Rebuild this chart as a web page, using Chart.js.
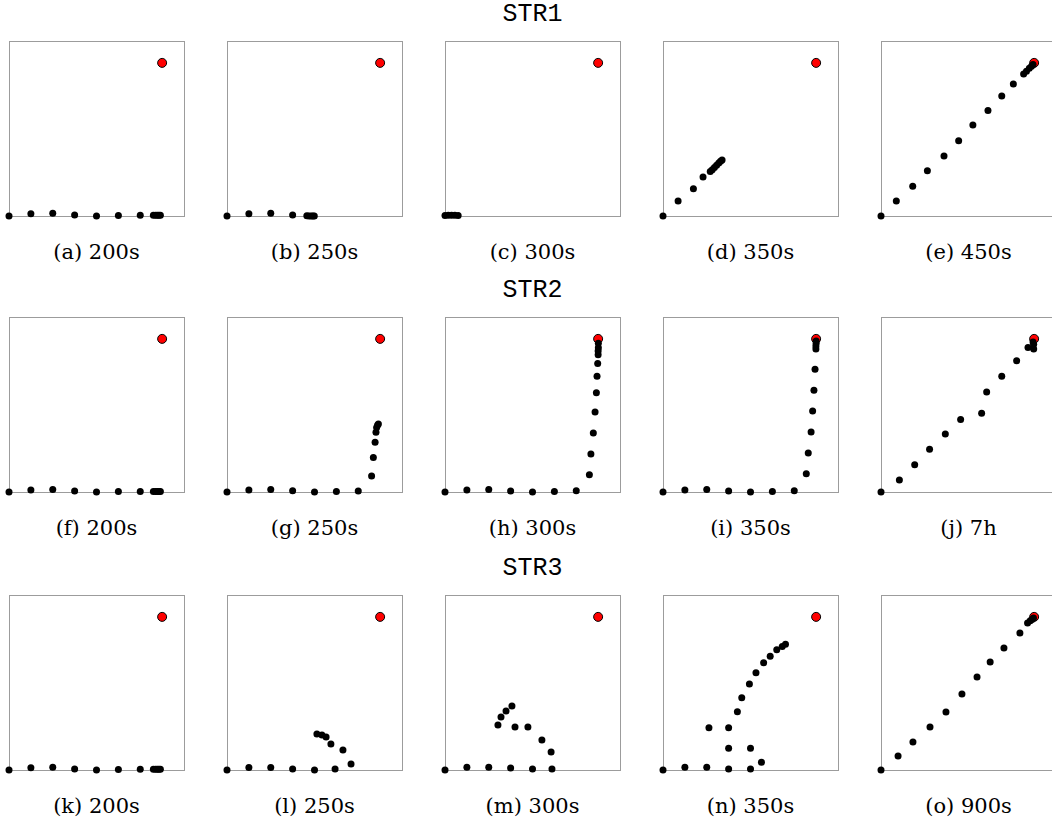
<!DOCTYPE html>
<html>
<head>
<meta charset="utf-8">
<script src="https://cdn.jsdelivr.net/npm/chart.js@4.4.1/dist/chart.umd.min.js"></script>
<style>
  html, body { margin: 0; padding: 0; background: #fff; }
  #page { position: relative; width: 1052px; height: 826px; overflow: hidden; }
  .panel { position: absolute; width: 195px; height: 195px; }
  .caption { position: absolute; width: 175px; text-align: center; font-family: "DejaVu Serif", serif; font-size: 21px; line-height: 24px; color: #000; white-space: nowrap; }
  .title { position: absolute; width: 175px; text-align: center; font-family: "Liberation Mono", monospace; font-size: 25px; line-height: 28px; color: #000; }
</style>
</head>
<body>
<div id="page"></div>
<script>
const ROW_TITLES = ['STR1', 'STR2', 'STR3'];
const CAPTIONS = [
  ['(a) 200s', '(b) 250s', '(c) 300s', '(d) 350s', '(e) 450s'],
  ['(f) 200s', '(g) 250s', '(h) 300s', '(i) 350s', '(j) 7h'],
  ['(k) 200s', '(l) 250s', '(m) 300s', '(n) 350s', '(o) 900s'],
];
const AXIS_MIN = 0;
const AXIS_MAX = 8;
const TARGET = [[7, 7]];

// STR1
const PATH_A = [[0, 0], [1, 0.1], [2, 0.13], [3, 0.05], [4, 0], [5, 0.02], [6, 0.03], [6.6, 0.03], [6.7, 0.03], [6.78, 0.03], [6.85, 0.03], [6.92, 0.03]];
const PATH_B = [[0, 0], [1, 0.1], [2, 0.13], [3, 0.05], [3.65, 0.01], [3.75, 0], [3.85, 0], [3.93, 0], [3.99, 0]];
const PATH_C = [[0, 0.02], [0.15, 0.04], [0.3, 0.04], [0.45, 0.03], [0.6, 0.02]];
const PATH_D = [[0, 0], [0.69, 0.69], [1.39, 1.25], [1.83, 1.78], [2.16, 2.03], [2.25, 2.12], [2.35, 2.22], [2.45, 2.32], [2.55, 2.42], [2.63, 2.5], [2.7, 2.56]];
const PATH_E = [[0, 0], [0.7, 0.69], [1.45, 1.36], [2.12, 2.07], [2.88, 2.74], [3.55, 3.44], [4.2, 4.16], [4.89, 4.82], [5.52, 5.49], [6.05, 6.03], [6.52, 6.49], [6.65, 6.62], [6.78, 6.75], [6.88, 6.85], [6.95, 6.93]];
// STR2
const PATH_F = [[0, 0], [1, 0.09], [2, 0.12], [3, 0.05], [4, 0], [5, 0.02], [6, 0.02], [6.6, 0.02], [6.7, 0.02], [6.78, 0.02], [6.85, 0.02], [6.92, 0.02]];
const PATH_G = [[0, 0], [1, 0.09], [2, 0.12], [3, 0.06], [4, 0], [5, 0.02], [6, 0.05], [6.61, 0.73], [6.69, 1.58], [6.77, 2.27], [6.81, 2.73], [6.84, 2.95], [6.88, 3.05], [6.92, 3.11]];
const PATH_H = [[0, 0], [1, 0.09], [2, 0.12], [3, 0.05], [4, 0], [5, 0.02], [6, 0.06], [6.6, 0.79], [6.67, 1.74], [6.78, 2.7], [6.86, 3.66], [6.92, 4.54], [6.95, 5.29], [6.98, 5.88], [7.0, 6.28], [7.0, 6.45], [7.01, 6.6], [7.01, 6.8]];
const PATH_I = [[0, 0], [1, 0.09], [2, 0.12], [3, 0.05], [4, 0], [5, 0.02], [6, 0.06], [6.55, 0.84], [6.64, 1.78], [6.77, 2.74], [6.84, 3.7], [6.9, 4.65], [6.95, 5.61], [6.99, 6.54], [6.99, 6.68], [7.0, 6.8], [7.0, 6.9]];
const PATH_J = [[0, 0], [0.84, 0.55], [1.54, 1.25], [2.22, 1.95], [2.94, 2.65], [3.64, 3.31], [4.6, 3.6], [4.83, 4.57], [5.52, 5.29], [6.2, 6.0], [6.72, 6.61], [6.98, 6.54], [6.98, 6.75], [6.95, 6.86]];
// STR3
const PATH_K = [[0, 0], [1, 0.1], [2, 0.13], [3, 0.05], [4, 0], [5, 0.02], [6, 0.03], [6.6, 0.03], [6.7, 0.03], [6.78, 0.03], [6.85, 0.03], [6.92, 0.03]];
const PATH_L = [[0, 0], [1, 0.12], [2, 0.12], [3, 0.05], [4, 0], [4.94, 0.05], [5.67, 0.27], [5.3, 0.91], [4.75, 1.19], [4.53, 1.51], [4.34, 1.6], [4.11, 1.65]];
const PATH_M = [[0, 0], [1, 0.13], [2, 0.13], [3, 0.09], [4, 0.05], [4.89, 0.05], [4.85, 0.82], [4.43, 1.37], [3.79, 1.97], [3.2, 1.97], [2.42, 2.06], [2.56, 2.42], [2.79, 2.7], [3.06, 2.93]];
const PATH_N = [[0, 0], [1, 0.13], [2, 0.13], [3, 0.05], [4, 0.05], [4.5, 0.35], [4.0, 1.0], [3.0, 1.0], [2.1, 1.93], [3.0, 1.93], [3.4, 2.66], [3.6, 3.3], [3.95, 3.93], [4.25, 4.45], [4.6, 4.9], [4.9, 5.2], [5.2, 5.5], [5.45, 5.65], [5.6, 5.75]];
const PATH_O = [[0, 0], [0.78, 0.64], [1.46, 1.28], [2.24, 1.97], [2.97, 2.65], [3.7, 3.47], [4.39, 4.25], [4.99, 4.94], [5.62, 5.58], [6.35, 6.26], [6.7, 6.72], [6.82, 6.82], [6.9, 6.88], [6.97, 6.95]];

const PATHS = [
  [PATH_A, PATH_B, PATH_C, PATH_D, PATH_E],
  [PATH_F, PATH_G, PATH_H, PATH_I, PATH_J],
  [PATH_K, PATH_L, PATH_M, PATH_N, PATH_O],
];

// layout of the plot boxes (pixels)
const BOX_LEFT = [9, 227, 445, 663, 881];
const BOX_TOP = [41, 317, 595];
const BOX_SIZE = 175;
const PAD = 10;

const page = document.getElementById('page');

function axis(position) {
  return {
    type: 'linear',
    position: position,
    min: AXIS_MIN,
    max: AXIS_MAX,
    ticks: { display: false },
    grid: { display: false, drawTicks: false },
    border: { display: true, color: '#9c9c9c', width: 1 },
  };
}

function toPoints(list) {
  return list.map(([x, y]) => ({ x, y }));
}

ROW_TITLES.forEach((title, r) => {
  const t = document.createElement('div');
  t.className = 'title';
  t.textContent = title;
  t.style.left = BOX_LEFT[2] + 'px';
  t.style.top = (BOX_TOP[r] - 40) + 'px';
  page.appendChild(t);

  PATHS[r].forEach((path, c) => {
    const wrap = document.createElement('div');
    wrap.className = 'panel';
    wrap.style.left = (BOX_LEFT[c] - PAD) + 'px';
    wrap.style.top = (BOX_TOP[r] - PAD) + 'px';
    const canvas = document.createElement('canvas');
    canvas.width = BOX_SIZE + 2 * PAD;
    canvas.height = BOX_SIZE + 2 * PAD;
    wrap.appendChild(canvas);
    page.appendChild(wrap);

    const cap = document.createElement('div');
    cap.className = 'caption';
    cap.textContent = CAPTIONS[r][c];
    cap.style.left = BOX_LEFT[c] + 'px';
    cap.style.top = (BOX_TOP[r] + BOX_SIZE + 24) + 'px';
    page.appendChild(cap);

    new Chart(canvas.getContext('2d'), {
      type: 'scatter',
      data: {
        datasets: [
          {
            label: 'robot',
            data: toPoints(path),
            backgroundColor: '#000',
            borderColor: '#000',
            borderWidth: 0,
            pointRadius: 3.5,
            clip: false,
          },
          {
            label: 'target',
            data: toPoints(TARGET),
            backgroundColor: '#ff0000',
            borderColor: '#000',
            borderWidth: 1,
            pointRadius: 4.5,
            clip: false,
          },
        ],
      },
      options: {
        responsive: false,
        animation: false,
        events: [],
        layout: { padding: PAD },
        plugins: { legend: { display: false }, tooltip: { enabled: false } },
        scales: {
          x: axis('bottom'),
          x2: axis('top'),
          y: axis('left'),
          y2: axis('right'),
        },
      },
    });
  });
});
</script>
</body>
</html>
